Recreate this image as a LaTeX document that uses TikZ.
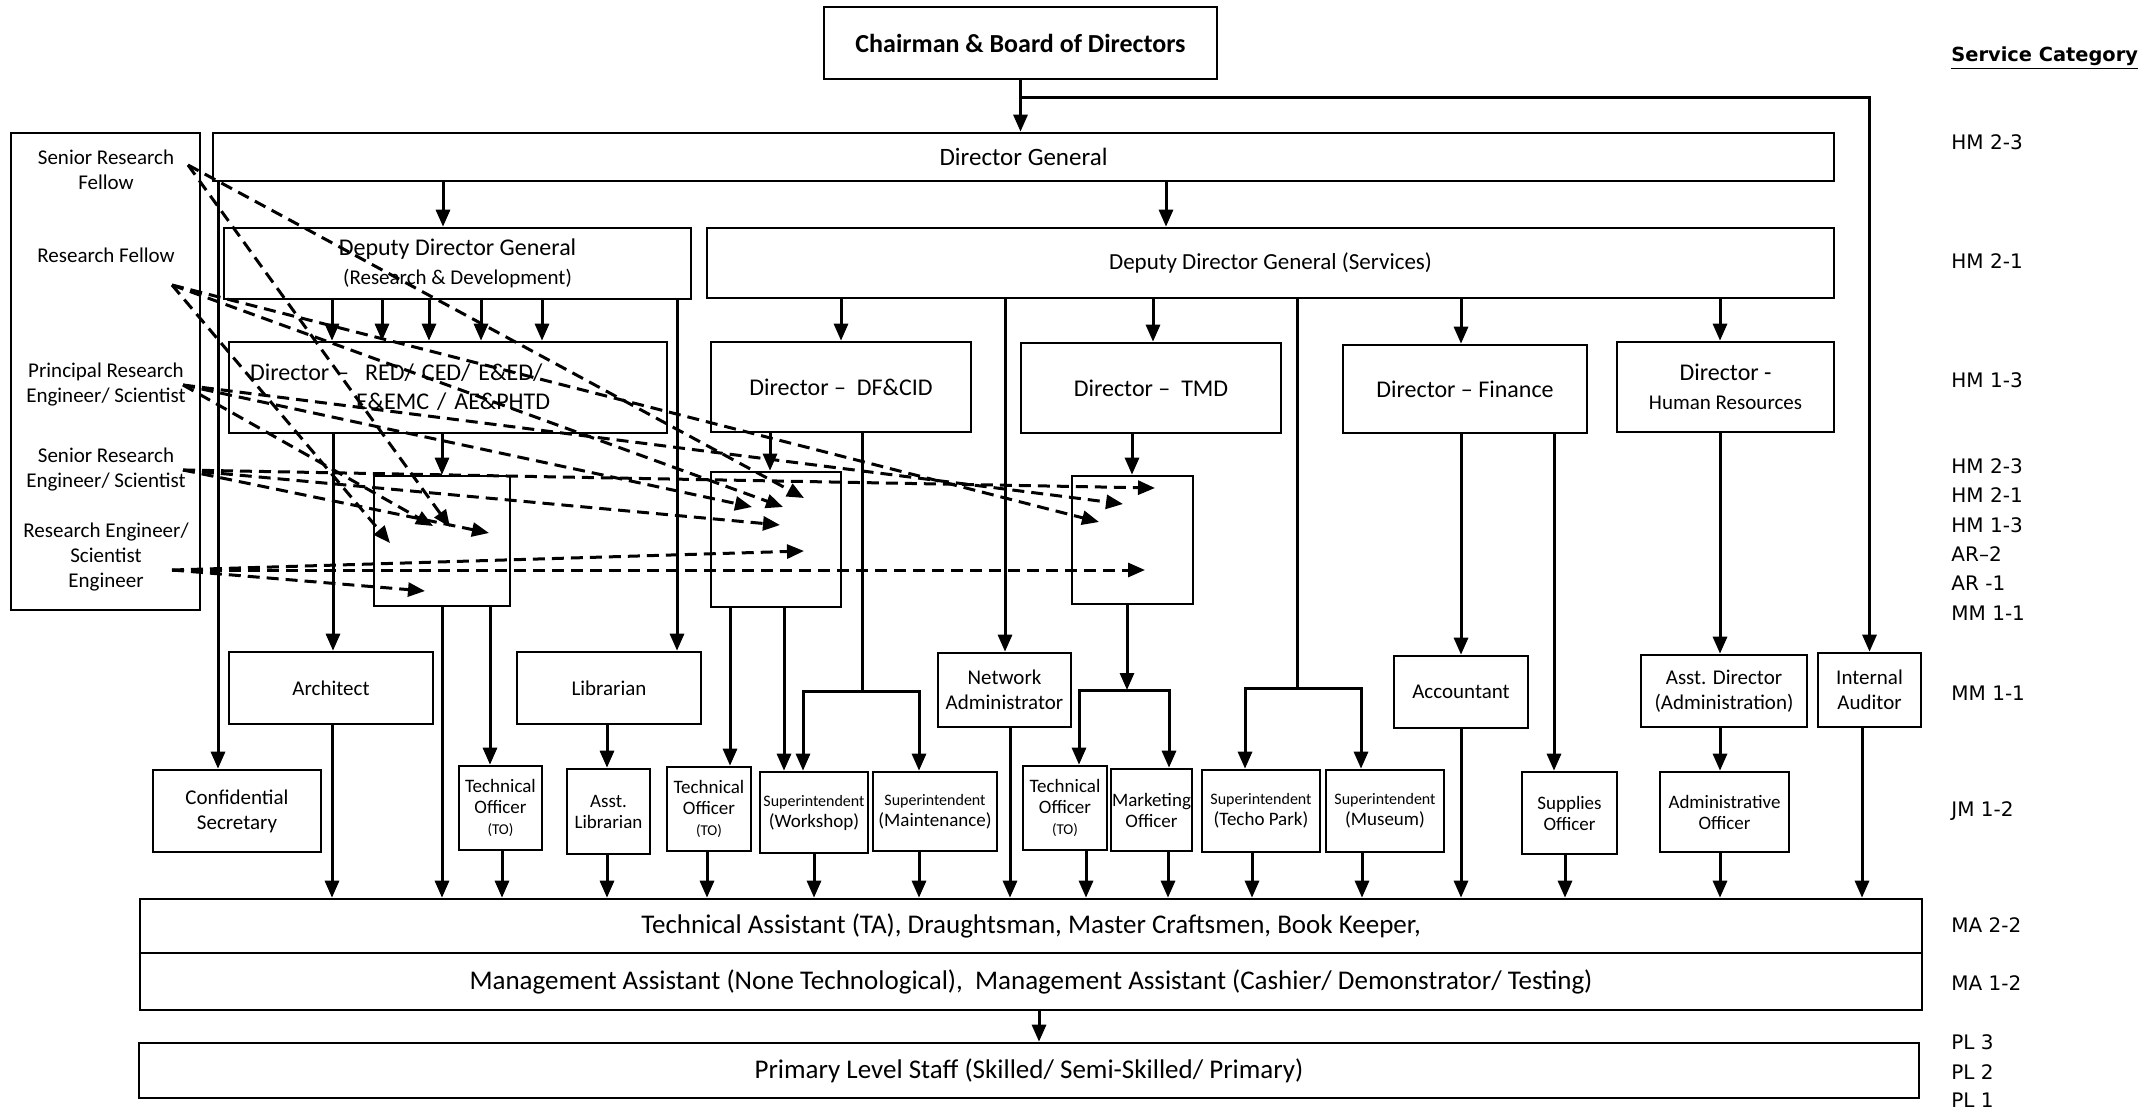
\documentclass[tikz,border=0pt]{standalone}
\usepackage{fontspec}
\setmainfont{Carlito}
\newfontfamily\gradefont{DejaVu Sans}
\usetikzlibrary{arrows.meta}

\begin{document}
\begin{tikzpicture}[
        x=0.5pt, y=-0.5pt,
        boxat/.style n args={4}{at={({(#1+#3)/2},{(#2+#4)/2})}, minimum width={(#3-#1)*0.5pt}, minimum height={(#4-#2)*0.5pt}},
        box/.style={draw, line width=1.3pt, inner sep=0pt, align=center, font=\fontsize{10.5}{12.5}\selectfont},
        head/.style={box, font=\fontsize{12}{14.5}\selectfont},
        small/.style={box, font=\fontsize{9.5}{10.5}\selectfont},
        wide/.style={box, font=\fontsize{13.5}{16}\selectfont},
        arrow/.style={line width=1.5pt, -{Triangle[length=8.5pt,width=7pt]}},
        link/.style={line width=1.5pt},
        dashed arrow/.style={arrow, dash pattern=on 6pt off 3.5pt},
        side/.style={align=center, inner sep=0pt, font=\fontsize{10.5}{12.5}\selectfont},
        grade/.style={anchor=west, inner sep=0pt, font=\gradefont\fontsize{10}{12}\selectfont}
    ]
    \useasboundingbox (0,0) rectangle (2156,1112);

    % board, DG and the two deputies
    \node [head, font=\bfseries\fontsize{13}{15.5}\selectfont, boxat={824}{7}{1217}{79}] (chair) {Chairman \& Board of Directors};
    \node [box, font=\fontsize{12.5}{15}\selectfont, boxat={213}{133}{1834}{181}] (dg) {Director General};
    \node [head, boxat={224}{228}{691}{299}] (ddgrd) {Deputy Director General\\{\fontsize{10.5}{12}\selectfont (Research \& Development)}};
    \node [head, font=\fontsize{11.5}{14}\selectfont, boxat={707}{228}{1834}{298}] (ddgsv) {Deputy Director General (Services)};

    % directors
    \node [head, text width=198pt, align=left, boxat={229}{342}{667}{433}] (dred) {Director –~ RED/ CED/ E\&ED/\\\hspace*{53pt}E\&EMC / AE\&PHTD};
    \node [head, boxat={711}{342}{971}{432}] (dfcid) {Director –~ DF\&CID};
    \node [head, boxat={1021}{343}{1281}{433}] (dtmd) {Director –~ TMD};
    \node [head, boxat={1343}{345}{1587}{433}] (dfin) {Director – Finance};
    \node [head, boxat={1617}{342}{1834}{432}] (dhr) {Director -\\{\fontsize{10.5}{12}\selectfont Human Resources}};

    % research staff boxes
    \node [box, boxat={374}{476}{510}{606}] (stf1) {};
    \node [box, boxat={711}{472}{841}{607}] (stf2) {};
    \node [box, boxat={1072}{476}{1193}{604}] (stf3) {};

    % research grades on the left
    \node [box, boxat={11}{133}{200}{610}] (panel) {};
    \node [side] (srflbl) at (106,170) {Senior Research\\Fellow};
    \node [side] (rflbl) at (106,255) {Research Fellow};
    \node [side] (prelbl) at (106,385) {Principal Research\\Engineer/ Scientist};
    \node [side] (srelbl) at (106,470) {Senior Research\\Engineer/ Scientist};
    \node [side] (relbl) at (106,557) {Research Engineer/\\Scientist\\Engineer};

    % middle managers
    \node [box, boxat={229}{652}{433}{724}] (arch) {Architect};
    \node [box, boxat={517}{652}{701}{724}] (libr) {Librarian};
    \node [box, boxat={938}{653}{1071}{727}] (netad) {Network\\Administrator};
    \node [box, boxat={1394}{656}{1528}{728}] (acct) {Accountant};
    \node [box, boxat={1641}{655}{1807}{727}] (asstdir) {Asst. Director\\(Administration)};
    \node [box, boxat={1818}{653}{1921}{727}] (audit) {Internal\\Auditor};

    % junior managers
    \node [box, boxat={153}{770}{321}{852}] (confsec) {Confidential\\Secretary};
    \node [small, boxat={459}{766}{542}{850}] (to1) {Technical\\Officer\\{\fontsize{7.5}{9}\selectfont (TO)}};
    \node [small, boxat={567}{769}{650}{854}] (asstlib) {Asst.\\Librarian};
    \node [small, boxat={667}{767}{751}{851}] (to2) {Technical\\Officer\\{\fontsize{7.5}{9}\selectfont (TO)}};
    \node [small, boxat={760}{772}{868}{853}] (supws) {{\fontsize{8}{10}\selectfont Superintendent}\\(Workshop)};
    \node [small, boxat={873}{772}{997}{851}] (supmt) {{\fontsize{8}{10}\selectfont Superintendent}\\(Maintenance)};
    \node [small, boxat={1023}{766}{1107}{850}] (to3) {Technical\\Officer\\{\fontsize{7.5}{9}\selectfont (TO)}};
    \node [small, boxat={1111}{769}{1192}{851}] (mkt) {Marketing\\Officer};
    \node [small, boxat={1202}{770}{1320}{852}] (suptp) {{\fontsize{8}{10}\selectfont Superintendent}\\(Techo Park)};
    \node [small, boxat={1326}{770}{1444}{852}] (supmu) {{\fontsize{8}{10}\selectfont Superintendent}\\(Museum)};
    \node [small, boxat={1522}{772}{1617}{854}] (supoff) {Supplies\\Officer};
    \node [small, boxat={1660}{772}{1789}{852}] (admoff) {Administrative\\Officer};

    % assistants and primary staff
    \node [wide, boxat={140}{899}{1922}{953}] (ta) {Technical Assistant (TA), Draughtsman, Master Craftsmen, Book Keeper,};
    \node [wide, boxat={140}{953}{1922}{1010}] (ma) {Management Assistant (None Technological),~ Management Assistant (Cashier/ Demonstrator/ Testing)};
    \node [wide, boxat={139}{1043}{1919}{1098}] (pl) {Primary Level Staff (Skilled/ Semi-Skilled/ Primary)};

    % service categories
    \node [grade, font=\gradefont\bfseries\fontsize{9.7}{12}\selectfont] (svc) at (1951,58) {\underline{Service Category}};
    \foreach \y/\g [count=\i] in {142/HM 2-3, 261/HM 2-1, 380/HM 1-3, 466/HM 2-3, 495/HM 2-1, 525/HM 1-3, 554/AR–2, 583/AR -1, 613/MM 1-1, 693/MM 1-1, 811/JM 1-2, 925/MA 2-2, 983/MA 1-2, 1042/PL 3, 1072/PL 2, 1100/PL 1}
        \node [grade] (g\i) at (1951,\y) {\g};

    % top of the chart
    \draw [arrow] (chair.south) -- (chair.south |- dg.north);
    \coordinate (split) at (chair.south |- 0,98);
    \draw [arrow] (split) -| (audit.north);
    \draw [arrow] (dg.south -| 443,0) -- (ddgrd.north -| 443,0);
    \draw [arrow] (dg.south -| 1166,0) -- (ddgsv.north -| 1166,0);
    \draw [arrow] (dg.south -| 218,0) -- (confsec.north -| 218,0);

    % research and development side
    \foreach \x in {332,382,429,481,542}
        \draw [arrow] (ddgrd.south -| \x,0) -- (dred.north -| \x,0);
    \draw [arrow] (ddgrd.south -| 677,0) -- (libr.north -| 677,0);
    \draw [arrow] (dred.south -| 333,0) -- (arch.north -| 333,0);
    \draw [arrow] (dred.south -| 442,0) -- (stf1.north -| 442,0);
    \draw [arrow] (stf1.south -| 490,0) -- (to1.north -| 490,0);
    \draw [arrow] (libr.south -| 607,0) -- (asstlib.north -| 607,0);

    % services side
    \draw [arrow] (ddgsv.south -| 841,0) -- (dfcid.north -| 841,0);
    \draw [arrow] (ddgsv.south -| 1005,0) -- (netad.north -| 1005,0);
    \draw [arrow] (ddgsv.south -| 1153,0) -- (dtmd.north -| 1153,0);
    \draw [arrow] (ddgsv.south -| 1461,0) -- (dfin.north -| 1461,0);
    \draw [arrow] (ddgsv.south -| 1720,0) -- (dhr.north -| 1720,0);

    \coordinate (fork1) at (862,691);
    \draw [arrow] (dfcid.south -| 770,0) -- (stf2.north -| 770,0);
    \draw [link] (dfcid.south -| fork1) -- (fork1);
    \draw [arrow] (fork1) -| (supws.north -| 803,0);
    \draw [arrow] (fork1) -| (supmt.north -| 919,0);
    \draw [arrow] (stf2.south -| 730,0) -- (to2.north -| 730,0);
    \draw [arrow] (stf2.south -| 784,0) -- (supws.north -| 784,0);

    \coordinate (fork3) at (1127,690);
    \draw [arrow] (dtmd.south -| 1132,0) -- (stf3.north -| 1132,0);
    \draw [arrow] (stf3.south -| fork3) -- (fork3);
    \draw [arrow] (fork3) -| (to3.north -| 1079,0);
    \draw [arrow] (fork3) -| (mkt.north -| 1169,0);

    \coordinate (fork2) at (1297,688);
    \draw [link] (ddgsv.south -| fork2) -- (fork2);
    \draw [arrow] (fork2) -| (suptp.north -| 1245,0);
    \draw [arrow] (fork2) -| (supmu.north -| 1361,0);

    \draw [arrow] (dfin.south -| 1461,0) -- (acct.north -| 1461,0);
    \draw [arrow] (dfin.south -| 1554,0) -- (supoff.north -| 1554,0);
    \draw [arrow] (dhr.south -| 1720,0) -- (asstdir.north -| 1720,0);
    \draw [arrow] (asstdir.south -| 1720,0) -- (admoff.north -| 1720,0);

    % down to the assistants
    \foreach \n/\x in {arch/332, stf1/442, to1/502, asstlib/607, to2/707, supws/814, supmt/919, netad/1010, to3/1086, mkt/1168, suptp/1252, supmu/1362, acct/1461, supoff/1565, admoff/1720, audit/1862}
        \draw [arrow] (\n.south -| \x,0) -- (ta.north -| \x,0);
    \draw [arrow] (ma.south -| 1039,0) -- (pl.north -| 1039,0);

    % research grades into the staff boxes
    \coordinate (srf) at (188,165);
    \coordinate (rf) at (172,285);
    \coordinate (pre) at (183,385);
    \coordinate (sre) at (183,470);
    \coordinate (re) at (172,570);
    \coordinate (t1a) at (390,543);
    \coordinate (t1b) at (433,526);
    \coordinate (t1c) at (450,527);
    \coordinate (t1d) at (489,533);
    \coordinate (t1e) at (425,591);
    \coordinate (t2a) at (752,507);
    \coordinate (t2b) at (783,507);
    \coordinate (t2c) at (804,498);
    \coordinate (t2d) at (780,525);
    \coordinate (t2e) at (804,551);
    \coordinate (t3a) at (1155,488);
    \coordinate (t3b) at (1123,504);
    \coordinate (t3c) at (1099,522);
    \coordinate (t3d) at (1145,570);
    \foreach \s/\t in {srf/t1c, srf/t2c, rf/t1a, rf/t2b, rf/t3c, pre/t1b, pre/t2a, pre/t3b, sre/t1d, sre/t2d, sre/t3a, re/t1e, re/t2e, re/t3d}
        \draw [dashed arrow] (\s) -- (\t);
\end{tikzpicture}
\end{document}
